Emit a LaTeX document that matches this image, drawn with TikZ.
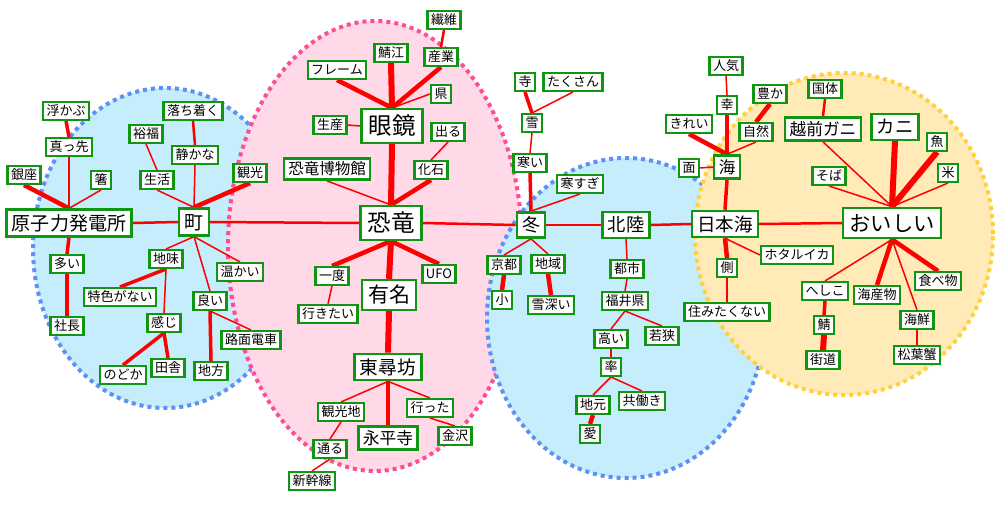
\documentclass[tikz,border=0pt]{standalone}
\usepackage{fontspec}
\setmainfont{Noto Sans CJK JP}
\pgfdeclarelayer{bg}
\pgfdeclarelayer{edg}
\pgfsetlayers{bg,edg,main}
\definecolor{gb}{RGB}{16,150,16}
\definecolor{bluefill}{RGB}{198,237,251}
\definecolor{blueline}{RGB}{95,145,245}
\definecolor{pinkfill}{RGB}{255,217,232}
\definecolor{pinkline}{RGB}{255,77,148}
\definecolor{yelfill}{RGB}{255,234,184}
\definecolor{yelline}{RGB}{255,210,60}
\tikzset{
  nd/.style={draw=gb, line width=2.5pt, fill=white,
    font=\fontsize{#1pt}{#1pt}\selectfont,
    inner xsep={0.35*#1*1pt-1.25pt}, inner ysep=0pt,
    minimum height={1.54*#1*1pt-2.5pt},
    execute at begin node={\rule[-0.12em]{0pt}{1em}}},
  nd/.default=13,
  ea/.style={draw=red, line width=1.5pt},
  eb/.style={draw=red, line width=2.5pt},
  ec/.style={draw=red, line width=3.5pt},
  ed/.style={draw=red, line width=4.5pt},
  ee/.style={draw=red, line width=6pt},
  region/.style={line width=4pt, dash pattern=on 4pt off 4pt}
}
\begin{document}
\begin{tikzpicture}[x=1pt,y=-1pt]
\begin{pgfonlayer}{bg}
\fill[white] (0,0) rectangle (1000,519);
\draw[region, fill=bluefill, draw=blueline] (165,248) ellipse [x radius=132pt, y radius=160pt];
\draw[region, fill=pinkfill, draw=pinkline] (375,246) ellipse [x radius=147pt, y radius=225pt];
\draw[region, fill=bluefill, draw=blueline] (626,318) ellipse [x radius=139pt, y radius=160pt];
\draw[region, fill=yelfill, draw=yelline] (844,234) ellipse [x radius=149pt, y radius=161pt];
\end{pgfonlayer}
\useasboundingbox (0,0) rectangle (1000,519);
% left cluster
\node[nd=19] (n1) at (69,223) {原子力発電所};
\node[nd=19] (machi) at (194,222) {町};
\node[nd] (ginza) at (24,175) {銀座};
\node[nd] (hashi) at (101,180) {箸};
\node[nd] (massaki) at (69,147) {真っ先};
\node[nd] (ukabu) at (66,111) {浮かぶ};
\node[nd] (yufuku) at (146,134) {裕福};
\node[nd] (ochitsuku) at (193,111) {落ち着く};
\node[nd] (shizuka) at (195,155) {静かな};
\node[nd] (seikatsu) at (157,180) {生活};
\node[nd] (kanko) at (250,173) {観光};
\node[nd] (oi) at (67,264) {多い};
\node[nd] (shacho) at (67,326) {社長};
\node[nd] (jimi) at (166,259) {地味};
\node[nd] (tokushoku) at (120,297) {特色がない};
\node[nd] (kanji) at (164,323) {感じ};
\node[nd] (nodoka) at (123,375) {のどか};
\node[nd] (inaka) at (168,368) {田舎};
\node[nd] (atatakai) at (240,272) {温かい};
\node[nd] (yoi) at (210,301) {良い};
\node[nd] (romen) at (251,340) {路面電車};
\node[nd] (chiho) at (211,371) {地方};
% pink cluster
\node[nd] (sen) at (444,20) {繊維};
\node[nd] (sabae) at (391,53) {鯖江};
\node[nd] (sangyo) at (441,57) {産業};
\node[nd] (frame) at (337,70) {フレーム};
\node[nd] (ken) at (441,94) {県};
\node[nd=23.5] (megane) at (392,126) {眼鏡};
\node[nd] (seisan) at (330,125) {生産};
\node[nd] (deru) at (448,132) {出る};
\node[nd=15.5] (hakubutsu) at (327,169) {恐竜博物館};
\node[nd] (kaseki) at (431,170) {化石};
\node[nd=23.5] (kyoryu) at (391,223) {恐竜};
\node[nd] (ichido) at (332,276) {一度};
\node[nd] (ufo) at (439,274) {UFO};
\node[nd=21] (yumei) at (389,295) {有名};
\node[nd] (ikitai) at (328,314) {行きたい};
\node[nd=18.7] (tojinbo) at (388,367) {東尋坊};
\node[nd] (kankochi) at (341,412) {観光地};
\node[nd] (itta) at (430,408) {行った};
\node[nd=16.7] (eiheiji) at (388,438) {永平寺};
\node[nd] (kanazawa) at (455,436) {金沢};
\node[nd] (tooru) at (330,449) {通る};
\node[nd] (shinkansen) at (312,481) {新幹線};
% blue right cluster
\node[nd] (tera) at (525,82) {寺};
\node[nd] (takusan) at (573,82) {たくさん};
\node[nd] (yuki) at (532,123) {雪};
\node[nd] (samui) at (530,163) {寒い};
\node[nd] (samusugi) at (580,184) {寒すぎ};
\node[nd=18] (fuyu) at (531,225) {冬};
\node[nd=18.3] (hokuriku) at (626,225) {北陸};
\node[nd] (kyoto) at (504,265) {京都};
\node[nd] (chiiki) at (548,264) {地域};
\node[nd] (sho) at (502,300) {小};
\node[nd] (yukibukai) at (551,305) {雪深い};
\node[nd] (toshi) at (627,269) {都市};
\node[nd] (fukui) at (625,301) {福井県};
\node[nd] (takai) at (611,339) {高い};
\node[nd] (wakasa) at (662,336) {若狭};
\node[nd] (ritsu) at (611,367) {率};
\node[nd] (jimoto) at (593,405) {地元};
\node[nd] (tomobataraki) at (642,401) {共働き};
\node[nd] (ai) at (590,434) {愛};
% yellow cluster
\node[nd=18.5] (nihonkai) at (725,224) {日本海};
\node[nd] (ninki) at (726,66) {人気};
\node[nd] (yutaka) at (770,94) {豊か};
\node[nd] (sachi) at (727,105) {幸};
\node[nd] (kokutai) at (825,89) {国体};
\node[nd] (kirei) at (689,124) {きれい};
\node[nd] (shizen) at (756,132) {自然};
\node[nd=16.7] (echizen) at (823,129) {越前ガニ};
\node[nd=18.3] (kani) at (895,127) {カニ};
\node[nd] (sakana) at (937,142) {魚};
\node[nd=16.5] (umi) at (727,167) {海};
\node[nd] (men) at (689,168) {面};
\node[nd] (soba) at (829,176) {そば};
\node[nd] (kome) at (948,173) {米};
\node[nd=21.3] (oishii) at (892,223) {おいしい};
\node[nd] (hotaru) at (797,255) {ホタルイカ};
\node[nd] (gawa) at (727,268) {側};
\node[nd] (suminaku) at (727,312) {住みたくない};
\node[nd] (heshiko) at (825,291) {へしこ};
\node[nd] (kaisanbutsu) at (877,295) {海産物};
\node[nd] (tabemono) at (938,281) {食べ物};
\node[nd] (kaisen) at (917,320) {海鮮};
\node[nd] (saba) at (824,325) {鯖};
\node[nd] (kaido) at (823,360) {街道};
\node[nd] (matsuba) at (917,355) {松葉蟹};
\begin{pgfonlayer}{edg}
% left
\draw[eb] (n1.east) -- (machi.west);
\draw[eb] (machi.east) -- (kyoryu.west);
\draw[ed] (ginza.south) -- (n1.north);
\draw[ea] (massaki.south) -- (n1.north);
\draw[ea] (hashi.south) -- (n1.north);
\draw[ec] (ukabu.south) -- (massaki.north);
\draw[ec] (n1.south) -- (oi.north);
\draw[ec] (oi.south) -- (shacho.north);
\draw[ea] (seikatsu.south) -- (machi.north);
\draw[ea] (yufuku.south) -- (seikatsu.north);
\draw[ea] (shizuka.south) -- (machi.north);
\draw[eb] (ochitsuku.south) -- (shizuka.north);
\draw[ed] (kanko.south) -- (machi.north);
\draw[ea] (machi.south) -- (jimi.north);
\draw[ec] (jimi.south) -- (tokushoku.north);
\draw[ea] (jimi.south) -- (kanji.north);
\draw[ec] (kanji.south) -- (nodoka.north);
\draw[ec] (kanji.south) -- (inaka.north);
\draw[ea] (machi.south) -- (yoi.north);
\draw[ec] (yoi.south) -- (chiho.north);
\draw[ea] (yoi.south) -- (romen.north);
\draw[ea] (machi.south) -- (atatakai.north);
% pink
\draw[ee] (megane.south) -- (kyoryu.north);
\draw[ee] (sabae.south) -- (megane.north);
\draw[ed] (sangyo.south) -- (megane.north);
\draw[eb] (sen.south) -- (sangyo.north);
\draw[ed] (frame.south) -- (megane.north);
\draw[ea] (megane.north) -- (ken.west);
\draw[ea] (seisan.east) -- (megane.west);
\draw[ea] (deru.south) -- (kaseki.north);
\draw[ed] (kaseki.south) -- (kyoryu.north);
\draw[ea] (hakubutsu.south) -- (kyoryu.north);
\draw[eb] (kyoryu.east) -- (fuyu.west);
\draw[ed] (kyoryu.south) -- (ichido.north);
\draw[ee] (kyoryu.south) -- (yumei.north);
\draw[ed] (kyoryu.south) -- (ufo.north);
\draw[ea] (ichido.south) -- (ikitai.north);
\draw[ee] (yumei.south) -- (tojinbo.north);
\draw[ea] (tojinbo.south) -- (kankochi.north);
\draw[ed] (tojinbo.south) -- (eiheiji.north);
\draw[ea] (tojinbo.south) -- (itta.north);
\draw[ea] (itta.south) -- (kanazawa.north);
\draw[ea] (kankochi.south) -- (tooru.north);
\draw[ea] (tooru.south) -- (shinkansen.north);
% blue right
\draw[ec] (tera.south) -- (yuki.north);
\draw[ea] (takusan.south) -- (yuki.north);
\draw[ea] (yuki.south) -- (samui.north);
\draw[ec] (samui.south) -- (fuyu.north);
\draw[ea] (samusugi.south) -- (fuyu.north);
\draw[eb] (fuyu.east) -- (hokuriku.west);
\draw[eb] (hokuriku.east) -- (nihonkai.west);
\draw[ea] (fuyu.south) -- (kyoto.north);
\draw[ea] (fuyu.south) -- (chiiki.north);
\draw[ed] (kyoto.south) -- (sho.north);
\draw[ed] (chiiki.south) -- (yukibukai.north);
\draw[ea] (hokuriku.south) -- (toshi.north);
\draw[ea] (toshi.south) -- (fukui.north);
\draw[ea] (fukui.south) -- (takai.north);
\draw[ea] (fukui.south) -- (wakasa.north);
\draw[ea] (takai.south) -- (ritsu.north);
\draw[ea] (ritsu.south) -- (jimoto.north);
\draw[ea] (ritsu.south) -- (tomobataraki.north);
\draw[ed] (jimoto.south) -- (ai.north);
% yellow
\draw[ea] (ninki.south) -- (sachi.north);
\draw[ed] (sachi.south) -- (umi.north);
\draw[ed] (yutaka.south) -- (shizen.north);
\draw[ea] (shizen.south) -- (umi.north);
\draw[ed] (kirei.south) -- (umi.north);
\draw[ea] (men.east) -- (umi.west);
\draw[ec] (umi.south) -- (nihonkai.north);
\draw[eb] (nihonkai.east) -- (oishii.west);
\draw[eb] (kokutai.south) -- (echizen.north);
\draw[ea] (echizen.south) -- (oishii.north);
\draw[ee] (kani.south) -- (oishii.north);
\draw[ee] (sakana.south) -- (oishii.north);
\draw[ea] (kome.south) -- (oishii.north);
\draw[ea] (soba.south) -- (oishii.north);
\draw[ed] (nihonkai.south) -- (gawa.north);
\draw[ea] (nihonkai.south) -- (hotaru.west);
\draw[ea] (gawa.south) -- (suminaku.north);
\draw[ea] (oishii.south) -- (heshiko.north);
\draw[ed] (oishii.south) -- (kaisanbutsu.north);
\draw[ea] (oishii.south) -- (kaisen.north);
\draw[ed] (oishii.south) -- (tabemono.north);
\draw[ec] (heshiko.south) -- (saba.north);
\draw[ee] (saba.south) -- (kaido.north);
\draw[eb] (kaisen.south) -- (matsuba.north);
\end{pgfonlayer}
\end{tikzpicture}
\end{document}
